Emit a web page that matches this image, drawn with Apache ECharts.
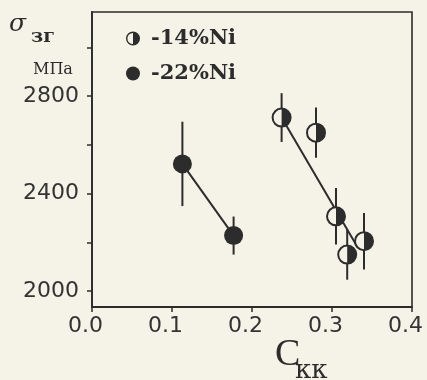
<!DOCTYPE html>
<html>
<head>
<meta charset="utf-8">
<script src="https://cdn.jsdelivr.net/npm/echarts@6/dist/echarts.min.js"></script>
<style>
html,body{margin:0;padding:0;background:#f5f3e7;}
#chart{width:427px;height:380px;}
</style>
</head>
<body>
<div id="chart"></div>
<script>
// ---- data ----
const xTicks = [0.0, 0.1, 0.2, 0.3, 0.4];
const yTickLabels = [2000, 2400, 2800];

const ni14Name = '-14%Ni';
const ni14X = [0.237, 0.280, 0.305, 0.319, 0.340];
const ni14Y = [2712, 2650, 2307, 2150, 2205];
const ni14Err = [100, 103, 116, 103, 116];
const ni14FitX = [0.237, 0.332];
const ni14FitY = [2712, 2180];

const ni22Name = '-22%Ni';
const ni22X = [0.113, 0.177];
const ni22Y = [2522, 2228];
const ni22Err = [173, 78];
const ni22FitX = [0.113, 0.177];
const ni22FitY = [2522, 2228];

// ---- build ----
const bg = '#f5f3e7';
const ink = '#2c2c2c';
const halfPath = 'path://M10,0A10,10,0,1,1,10,20A10,10,0,1,1,10,0ZM10,2A8,8,0,1,0,10,18A8,8,0,1,0,10,2ZM10,2A8,8,0,0,1,10,18Z';

const zip = (xs, ys) => xs.map((x, i) => [x, ys[i]]);
const errData = ni14X.map((x, i) => [x, ni14Y[i], ni14Y[i] - ni14Err[i], ni14Y[i] + ni14Err[i]])
  .concat(ni22X.map((x, i) => [x, ni22Y[i], ni22Y[i] - ni22Err[i], ni22Y[i] + ni22Err[i]]));

const chart = echarts.init(document.getElementById('chart'));
chart.setOption({
  backgroundColor: bg,
  animation: false,
  grid: {left: 92, right: 15, top: 12, bottom: 73, show: true, borderColor: ink, borderWidth: 1.6, backgroundColor: 'transparent'},
  legend: {
    data: [
      {name: ni14Name, icon: halfPath},
      {name: ni22Name, icon: 'circle'}
    ],
    orient: 'vertical', left: 121, top: 23,
    itemWidth: 14, itemHeight: 14, itemGap: 14,
    textStyle: {fontFamily: 'DejaVu Serif', fontWeight: 'bold', fontSize: 21, color: ink, lineHeight: 14, padding: [0, 0, 0, 6]}
  },
  xAxis: {
    type: 'value', min: 0, max: 0.4, interval: 0.1,
    axisLine: {lineStyle: {color: ink, width: 1.8}},
    axisTick: {show: true, length: 5, lineStyle: {color: ink, width: 1.5}},
    splitLine: {show: false},
    axisLabel: {
      fontFamily: 'DejaVu Sans', fontSize: 22, color: '#333', margin: 8, padding: [0, 13, 0, 0],
      formatter: v => xTicks.some(t => Math.abs(t - v) < 1e-9) ? v.toFixed(1) : ''
    }
  },
  yAxis: {
    type: 'value', min: 1935, max: 3145, splitNumber: 6,
    axisLine: {lineStyle: {color: ink, width: 1.8}},
    axisTick: {show: true, length: 5, lineStyle: {color: ink, width: 1.5}},
    splitLine: {show: false},
    axisLabel: {
      fontFamily: 'DejaVu Sans', fontSize: 22, color: '#333', margin: 13,
      showMinLabel: false, showMaxLabel: false,
      formatter: v => yTickLabels.indexOf(v) >= 0 ? String(v) : ''
    }
  },
  graphic: [
    {type: 'text', left: 9, top: 12, style: {text: 'σ', fontFamily: 'DejaVu Serif', fontStyle: 'italic', fontSize: 25, fill: ink}},
    {type: 'text', left: 31, top: 28, style: {text: 'зг', fontFamily: 'DejaVu Serif', fontWeight: 'bold', fontSize: 19, fill: ink}},
    {type: 'text', left: 33, top: 62, style: {text: 'МПа', fontFamily: 'DejaVu Serif', fontSize: 16, fill: ink}},
    {type: 'text', left: 275, top: 336, style: {text: 'C', fontFamily: 'Liberation Serif', fontSize: 38, fill: ink}},
    {type: 'text', left: 295, top: 358, style: {text: 'кк', fontFamily: 'DejaVu Serif', fontSize: 26, fill: ink}}
  ],
  series: [
    {type: 'line', data: zip(ni14FitX, ni14FitY), symbol: 'none', lineStyle: {color: ink, width: 2}, silent: true, z: 2},
    {type: 'line', data: zip(ni22FitX, ni22FitY), symbol: 'none', lineStyle: {color: ink, width: 2}, silent: true, z: 2},
    {
      type: 'custom', data: errData, z: 3, silent: true,
      renderItem: (params, api) => {
        const c = api.coord([api.value(0), api.value(1)]);
        const lo = api.coord([api.value(0), api.value(2)]);
        const hi = api.coord([api.value(0), api.value(3)]);
        return {type: 'group', children: [
          {type: 'line', shape: {x1: c[0], y1: lo[1], x2: c[0], y2: hi[1]}, style: {stroke: ink, lineWidth: 2}},
          {type: 'circle', shape: {cx: c[0], cy: c[1], r: 9}, style: {fill: bg}}
        ]};
      }
    },
    {name: ni14Name, type: 'scatter', data: zip(ni14X, ni14Y), symbol: halfPath, symbolSize: 20, itemStyle: {color: ink, opacity: 1}, z: 4},
    {name: ni22Name, type: 'scatter', data: zip(ni22X, ni22Y), symbol: 'circle', symbolSize: 19, itemStyle: {color: ink, opacity: 1}, z: 4}
  ]
});
</script>
</body>
</html>
